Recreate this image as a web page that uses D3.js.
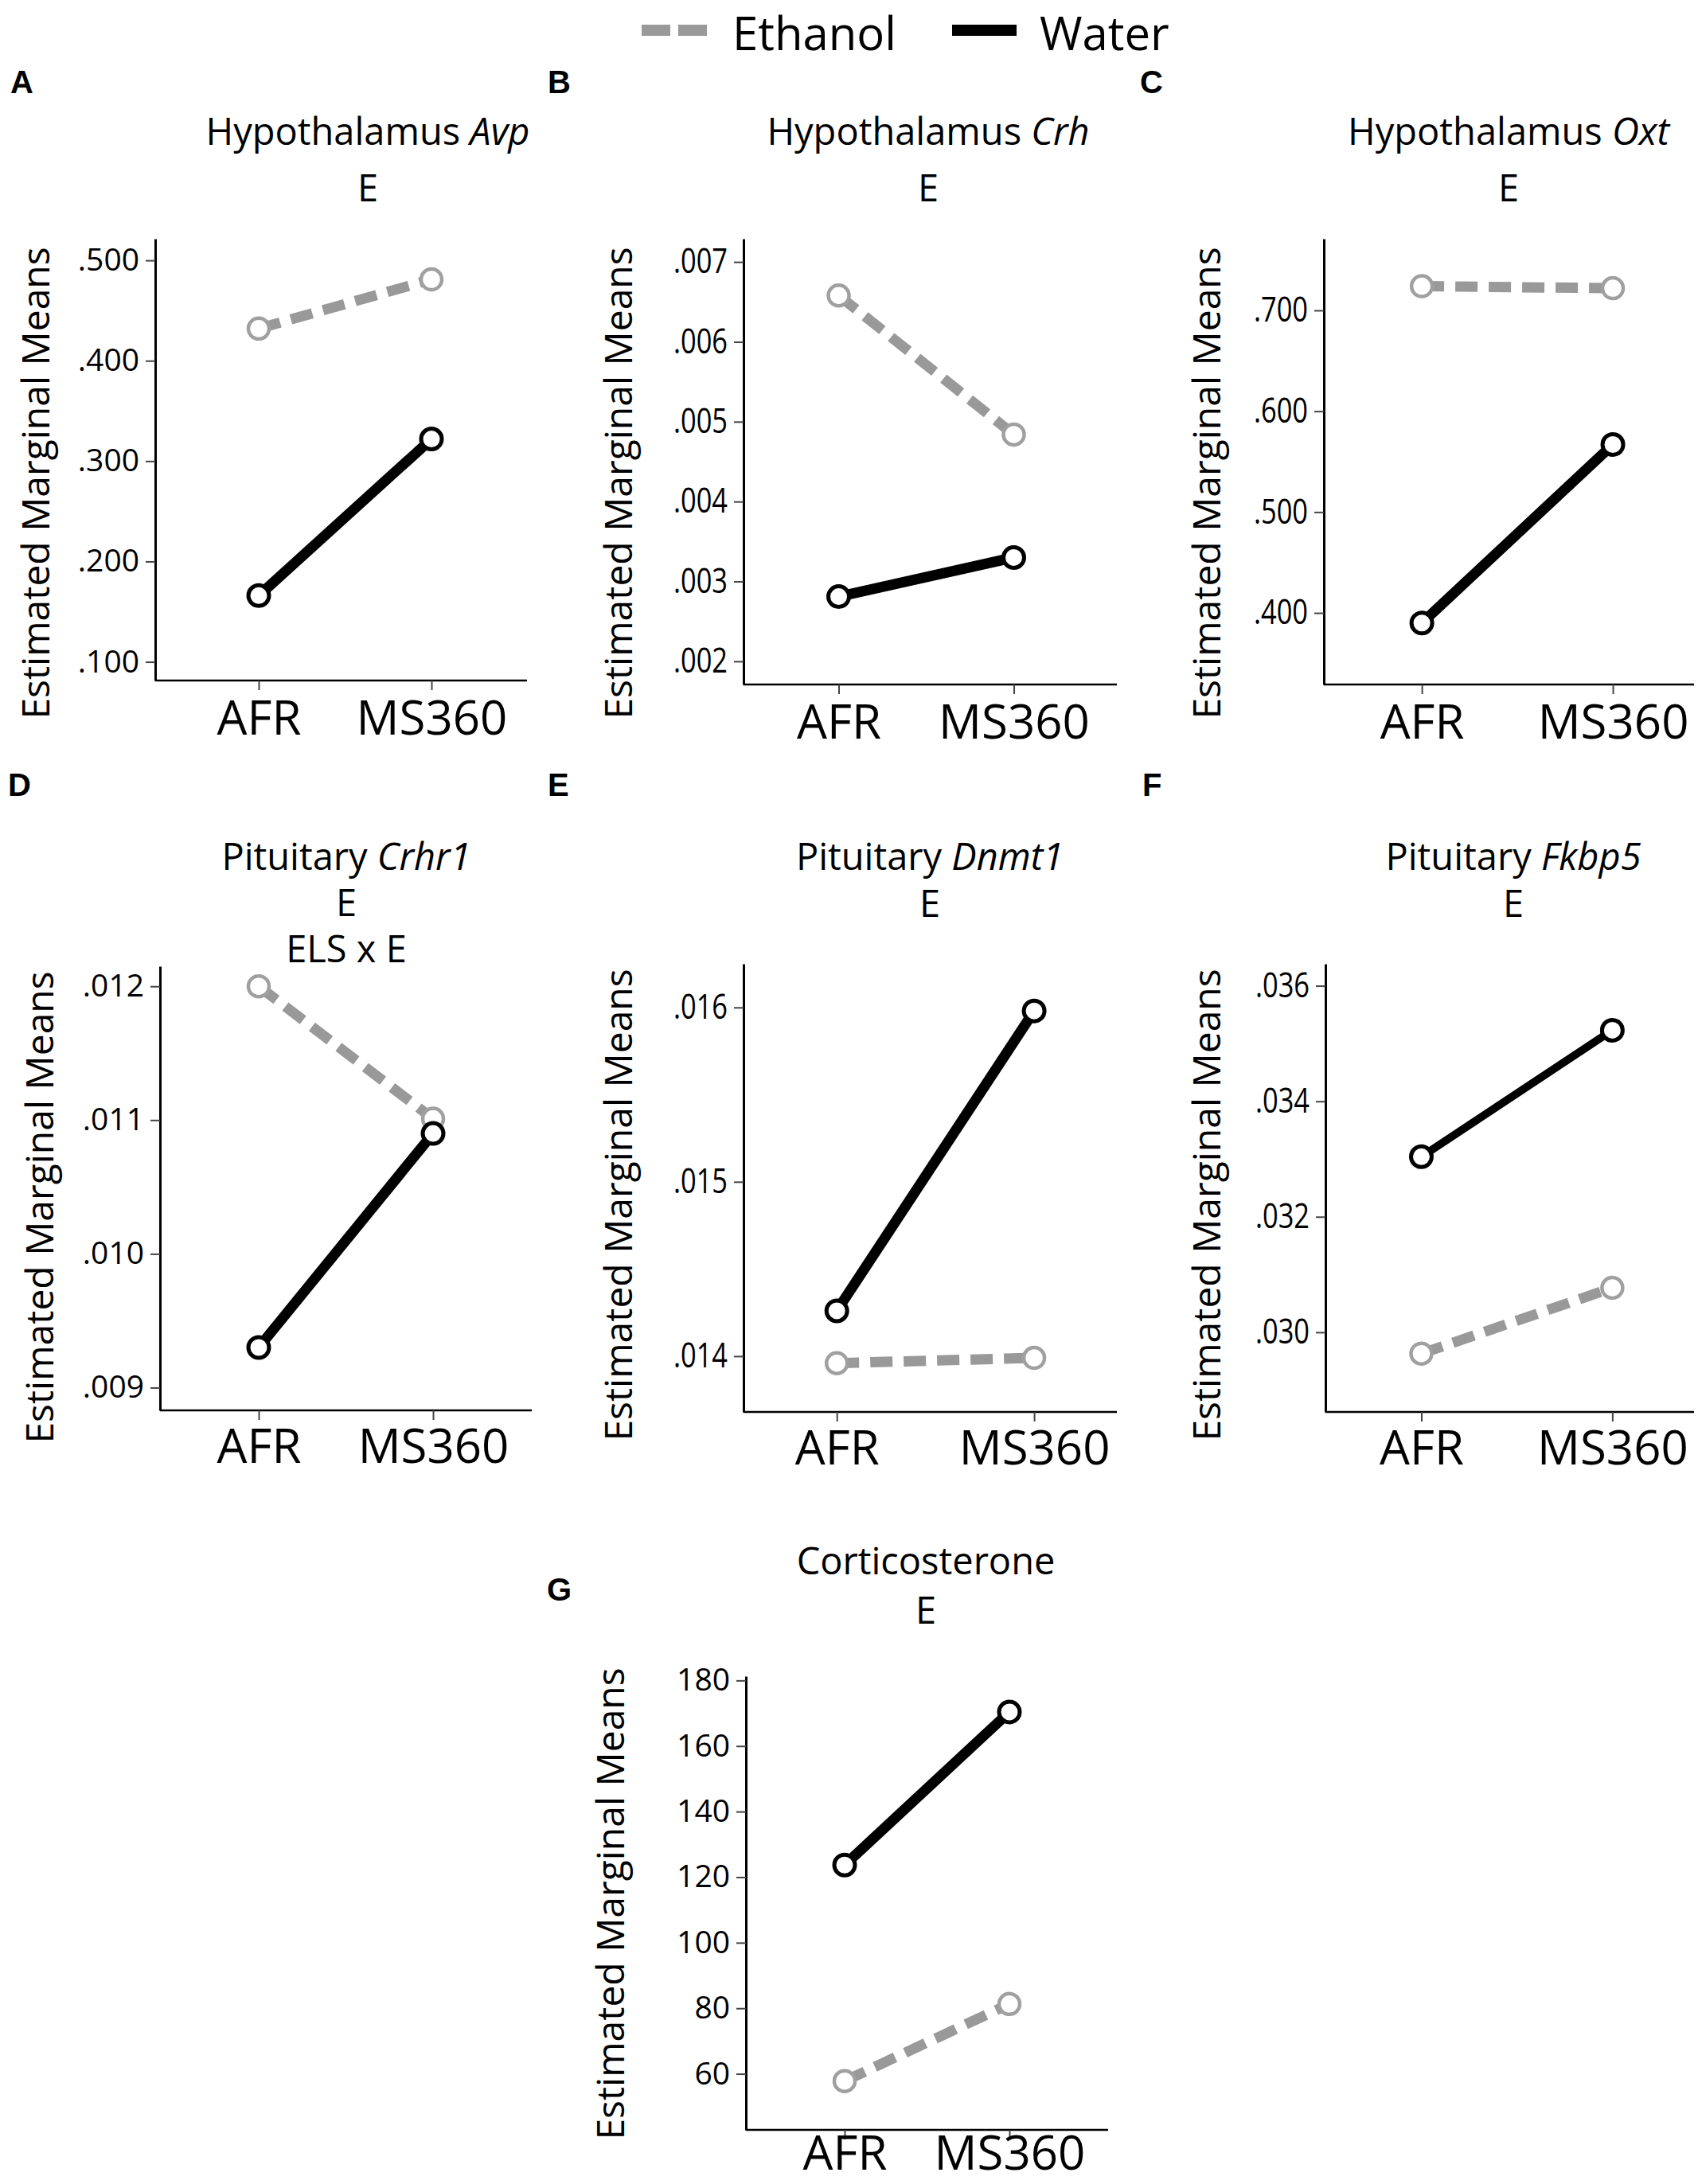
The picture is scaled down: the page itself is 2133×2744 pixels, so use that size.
<!DOCTYPE html>
<html lang="en">
<head>
  <meta charset="UTF-8">
  <title>Estimated marginal means - ELS x Ethanol</title>
  <script src="https://d3js.org/d3.v7.min.js"></script>
  <style>
    body {
      margin: 0;
      background: white;
      font-family: 'Open Sans', sans-serif;
    }

    svg {
      display: block;
    }

    .panel-letter {
      font-family: 'Liberation Sans', Arial, sans-serif;
      font-weight: bold;
      font-size: 40px;
    }

    .title, .subtitle {
      font-size: 47px;
      text-anchor: middle;
    }

    .y-title {
      font-size: 48px;
      text-anchor: middle;
    }

    .legend text {
      font-size: 58px;
    }
  </style>
</head>
<body>

<svg></svg>

<script>
// Categories and series
const groups = ["AFR", "MS360"];
const seriesNames = ["Ethanol", "Water"];

// Panel titles: plain part + italic gene name
const titleText = ["Hypothalamus", "Hypothalamus", "Hypothalamus", "Pituitary", "Pituitary", "Pituitary", "Corticosterone"];
const geneText = ["Avp", "Crh", "Oxt", "Crhr1", "Dnmt1", "Fkbp5", ""];
const effectText = [["E"], ["E"], ["E"], ["E", "ELS x E"], ["E"], ["E"], ["E"]];
const panelLetters = ["A", "B", "C", "D", "E", "F", "G"];

// Estimated marginal means [AFR, MS360]
const ethanolValues = [
  [0.432, 0.481],
  [0.00658, 0.00484],
  [0.724, 0.722],
  [0.0120, 0.01101],
  [0.01396, 0.01399],
  [0.02963, 0.03077],
  [57.8, 81.3]
];
const waterValues = [
  [0.166, 0.322],
  [0.00281, 0.00330],
  [0.390, 0.567],
  [0.00930, 0.01090],
  [0.01426, 0.01598],
  [0.03304, 0.03523],
  [123.7, 170.4]
];

// Y axis extents and tick values
const yDomains = [
  [0.0814, 0.5215],
  [0.00171, 0.00729],
  [0.329, 0.771],
  [0.00883, 0.01215],
  [0.01368, 0.01625],
  [0.02862, 0.03638],
  [42.9, 181.3]
];
const yTicks = [
  [0.1, 0.2, 0.3, 0.4, 0.5],
  [0.002, 0.003, 0.004, 0.005, 0.006, 0.007],
  [0.4, 0.5, 0.6, 0.7],
  [0.009, 0.010, 0.011, 0.012],
  [0.014, 0.015, 0.016],
  [0.030, 0.032, 0.034, 0.036],
  [60, 80, 100, 120, 140, 160, 180]
];

// Layout of each panel (pixels)
const layout = [
  { x0: 195, x1: 662, top: 300, bottom: 855, pad: 0.576, align: 0.52, cond: false, lx: 13, ly: 117, tx: 462, ty: 182, ey: [253], yx: 62, yy: 607, xl: 68 },
  { x0: 934, x1: 1403, top: 300, bottom: 860, pad: 0.566, align: 0.48, cond: true, lx: 688, ly: 117, tx: 1166, ty: 182, ey: [253], yx: 794, yy: 607, xl: 68 },
  { x0: 1663, x1: 2128, top: 300, bottom: 860, pad: 0.469, align: 0.547, cond: true, lx: 1432, ly: 117, tx: 1895, ty: 182, ey: [253], yx: 1533, yy: 607, xl: 68 },
  { x0: 201, x1: 668, top: 1214, bottom: 1772, pad: 0.566, align: 0.50, cond: false, lx: 10, ly: 1000, tx: 435, ty: 1093, ey: [1151, 1209], yx: 67, yy: 1517, xl: 66 },
  { x0: 934, x1: 1403, top: 1211, bottom: 1774, pad: 0.446, align: 0.53, cond: true, lx: 688, ly: 1000, tx: 1168, ty: 1093, ey: [1152], yx: 794, yy: 1514, xl: 66 },
  { x0: 1665, x1: 2128, top: 1211, bottom: 1774, pad: 0.465, align: 0.54, cond: true, lx: 1435, ly: 1000, tx: 1901, ty: 1093, ey: [1152], yx: 1533, yy: 1514, xl: 66 },
  { x0: 937, x1: 1392, top: 2106, bottom: 2676, pad: 0.599, align: 0.50, cond: false, lx: 687, ly: 2011, tx: 1163, ty: 1978, ey: [2040], yx: 784, yy: 2392, xl: 50 }
];

const W = 2133, H = 2744;
const ethColor = "#999999";
const waterColor = "#000000";

const svg = d3.select("svg")
  .attr("width", W)
  .attr("height", H)
  .attr("viewBox", [0, 0, W, H]);

// Legend
const legend = svg.append("g").attr("class", "legend");
legend.append("line")
  .attr("x1", 806).attr("x2", 888).attr("y1", 38).attr("y2", 38)
  .attr("stroke", ethColor).attr("stroke-width", 14)
  .attr("stroke-dasharray", "36,10");
legend.append("text").attr("x", 920).attr("y", 63).text(seriesNames[0]);
legend.append("line")
  .attr("x1", 1196).attr("x2", 1277).attr("y1", 38).attr("y2", 38)
  .attr("stroke", waterColor).attr("stroke-width", 14);
legend.append("text").attr("x", 1306).attr("y", 63).text(seriesNames[1]);

const stripZero = d3.format(".3f");
function tickFmt(i) {
  if (i === 6) return d => d3.format("d")(d);
  return d => stripZero(d).replace(/^0/, "");
}

layout.forEach((p, i) => {
  const g = svg.append("g").attr("class", "panel");

  const x = d3.scalePoint()
    .domain(groups)
    .range([p.x0, p.x1])
    .padding(p.pad)
    .align(p.align);

  const y = d3.scaleLinear()
    .domain(yDomains[i])
    .range([p.bottom, p.top]);

  // panel letter
  g.append("text")
    .attr("class", "panel-letter")
    .attr("x", p.lx)
    .attr("y", p.ly)
    .text(panelLetters[i]);

  // title
  const t = g.append("text")
    .attr("class", "title")
    .attr("x", p.tx)
    .attr("y", p.ty);
  t.append("tspan").text(titleText[i]);
  if (geneText[i]) {
    t.append("tspan").attr("font-style", "italic").text(" " + geneText[i]);
  }

  effectText[i].forEach((s, k) => {
    g.append("text")
      .attr("class", "subtitle")
      .attr("x", p.tx)
      .attr("y", p.ey[k])
      .text(s);
  });

  // y axis title
  g.append("text")
    .attr("class", "y-title")
    .attr("transform", `translate(${p.yx},${p.yy}) rotate(-90)`)
    .text("Estimated Marginal Means");

  // y axis
  const sx = p.cond ? 0.8 : 1;
  const yAxis = g.append("g")
    .attr("transform", `translate(${p.x0},0)`)
    .call(d3.axisLeft(y)
      .tickValues(yTicks[i])
      .tickFormat(tickFmt(i))
      .tickSize(12)
      .tickSizeOuter(0)
      .tickPadding(8));
  yAxis.select(".domain").attr("stroke", "#000").attr("stroke-width", 3);
  yAxis.selectAll(".tick line").attr("stroke", "#444").attr("stroke-width", 2);
  yAxis.selectAll(".tick text")
    .attr("font-family", "'Open Sans', sans-serif")
    .attr("font-size", p.cond ? 43 : 39)
    .attr("fill", "#000")
    .attr("x", -20 / sx)
    .attr("transform", `scale(${sx},1)`);

  // x axis
  const xAxis = g.append("g")
    .attr("transform", `translate(0,${p.bottom})`)
    .call(d3.axisBottom(x).tickSize(12).tickSizeOuter(0));
  xAxis.select(".domain")
    .attr("d", `M${p.x0},0H${p.x1}`)
    .attr("stroke", "#000").attr("stroke-width", 2.5);
  xAxis.selectAll(".tick line").attr("stroke", "#444").attr("stroke-width", 2);
  xAxis.selectAll(".tick text")
    .attr("font-family", "'Open Sans', sans-serif")
    .attr("font-size", 60)
    .attr("fill", "#000")
    .attr("y", p.xl)
    .attr("dy", 0);

  // lines
  const line = d3.line()
    .x((d, k) => x(groups[k]))
    .y(d => y(d));

  g.append("path")
    .datum(ethanolValues[i])
    .attr("fill", "none")
    .attr("stroke", ethColor)
    .attr("stroke-width", 13)
    .attr("stroke-dasharray", "28,14")
    .attr("d", line);

  g.append("path")
    .datum(waterValues[i])
    .attr("fill", "none")
    .attr("stroke", waterColor)
    .attr("stroke-width", i === 5 ? 10 : 13)
    .attr("d", line);

  // markers
  g.selectAll("circle.eth")
    .data(ethanolValues[i])
    .join("circle")
    .attr("class", "eth")
    .attr("cx", (d, k) => x(groups[k]))
    .attr("cy", d => y(d))
    .attr("r", 13)
    .attr("fill", "white")
    .attr("stroke", "#a0a0a0")
    .attr("stroke-width", 4.5);

  g.selectAll("circle.wat")
    .data(waterValues[i])
    .join("circle")
    .attr("class", "wat")
    .attr("cx", (d, k) => x(groups[k]))
    .attr("cy", d => y(d))
    .attr("r", 13)
    .attr("fill", "white")
    .attr("stroke", waterColor)
    .attr("stroke-width", 5);
});
</script>

</body>
</html>
